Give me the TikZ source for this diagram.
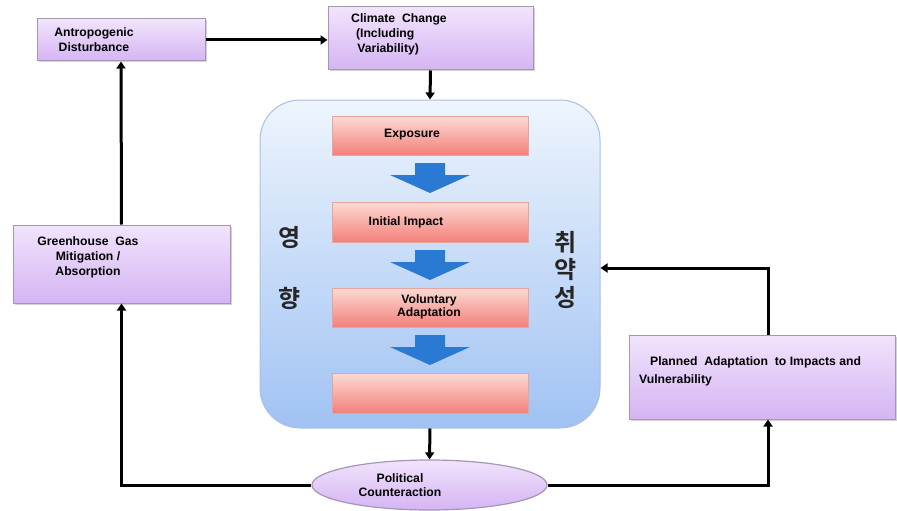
\documentclass[tikz,border=0pt]{standalone}
\usepackage{fontspec}
\setmainfont{Liberation Sans}
\newfontfamily\kofont[BoldFont={Noto Sans CJK KR Bold}]{Noto Sans CJK KR}
\usetikzlibrary{arrows.meta,shapes.geometric,shadows}
\definecolor{pTop}{HTML}{F1E4FC}
\definecolor{pBot}{HTML}{D5B4F3}
\definecolor{pEdge}{HTML}{A596B4}
\definecolor{rTop}{HTML}{FCDAD4}
\definecolor{rBot}{HTML}{F3807A}
\definecolor{rEdge}{HTML}{E8A49C}
\definecolor{bTop}{HTML}{EEF5FD}
\definecolor{bBot}{HTML}{A0C2F3}
\definecolor{bEdge}{HTML}{A9C1E0}
\definecolor{arrBlue}{HTML}{2A79D2}
\begin{document}
\begin{tikzpicture}[x=1pt,y=-1pt,
  txt/.style={font=\fontsize{12.2}{15}\selectfont\bfseries, inner sep=0pt},
  purplebox/.style={rectangle, draw=pEdge, line width=1pt, top color=pTop, bottom color=pBot,
     drop shadow={shadow xshift=1.5pt, shadow yshift=-1.5pt, opacity=0.35}, inner sep=0pt},
  redbox/.style={rectangle, draw=rEdge, line width=1pt, top color=rTop, bottom color=rBot,
     minimum width=196pt, drop shadow={shadow xshift=1.2pt, shadow yshift=-1.2pt, opacity=0.3}, inner sep=0pt},
  bluebox/.style={rectangle, rounded corners=40pt, draw=bEdge, line width=1pt, top color=bTop, bottom color=bBot, inner sep=0pt},
  polell/.style={ellipse, draw=pEdge, line width=1.2pt, top color=pTop, bottom color=pBot, inner sep=0pt},
  conn/.style={line width=3pt, draw=black, -{Triangle[length=7pt,width=9pt]}},
  kor/.style={font=\kofont\fontsize{24}{26}\selectfont\bfseries, text=black!85, inner sep=0pt},
  bluearrow/.style={fill=arrBlue, draw=none}
]
\fill[white] (0,0) rectangle (897,511);
\useasboundingbox (0,0) rectangle (897,511);

% boxes
\node[purplebox, minimum width=168pt, minimum height=42pt] (anthro) at (121,40) {};
\node[purplebox, minimum width=205pt, minimum height=63pt] (climate) at (430.5,38.5) {};
\node[purplebox, minimum width=217pt, minimum height=78pt] (gh) at (121.5,264) {};
\node[purplebox, minimum width=266pt, minimum height=84pt] (planned) at (762,377) {};
\node[bluebox, minimum width=340pt, minimum height=328pt] (blue) at (430,264) {};
\node[redbox, minimum height=39pt] (exp) at (430,135.5) {};
\node[redbox, minimum height=40pt] (ini) at (430,222) {};
\node[redbox, minimum height=39pt] (vol) at (430,307.5) {};
\node[redbox, minimum height=40pt] (last) at (430,393) {};
\node[polell, minimum width=235pt, minimum height=50pt] (pol) at (429.5,485) {};

% blue arrows
\foreach \t in {163,250,335}{
  \path[bluearrow] (415,\t) -- (445,\t) -- (445,\t+12) -- (470,\t+12) -- (430,\t+30) -- (390,\t+12) -- (415,\t+12) -- cycle;
}

% texts
\node[txt, align=center] (anthrot) at (94,40) {Antropogenic\\Disturbance};
\node[txt, align=left, anchor=west] (climatet) at (351,34) {Climate\ \ Change\\\hspace{0.4em}(Including\\\hspace{0.5em}Variability)};
\node[txt, align=center] (ght) at (88,257) {Greenhouse\ \ Gas\\Mitigation /\\Absorption};
\node[txt, align=left, anchor=west, font=\fontsize{12.2}{18}\selectfont\bfseries] (plannedt) at (639,371) {\hspace{0.9em}Planned\ \ Adaptation\ \ to Impacts and\\Vulnerability};
\node[txt] (expt) at (412,135) {Exposure};
\node[txt] (init) at (406,222) {Initial Impact};
\node[txt, align=center, font=\fontsize{12.2}{13}\selectfont\bfseries] (volt) at (429,307) {Voluntary\\Adaptation};
\node[txt, align=center, font=\fontsize{12.2}{13.5}\selectfont\bfseries] (polt) at (400,485) {Political\\Counteraction};

% korean
\node[kor] (k1) at (290,238) {영};
\node[kor] (k2) at (290,298) {향};
\node[kor] (k3) at (566,242) {취};
\node[kor] (k4) at (566,270) {약};
\node[kor] (k5) at (566,298) {성};

% connectors
\draw[conn] (anthro.east) -- (anthro.east -| climate.west);
\draw[conn] (climate.south) -- (blue.north);
\draw[conn] (gh.north) -- (anthro.south);
\draw[conn] (blue.south) -- (pol.north);
\draw[conn] (pol.west) -| (gh.south);
\draw[conn] (pol.east) -| ([xshift=6pt]planned.south);
\draw[conn] ([xshift=6pt]planned.north) |- ([yshift=-4pt]blue.east);
\end{tikzpicture}
\end{document}
